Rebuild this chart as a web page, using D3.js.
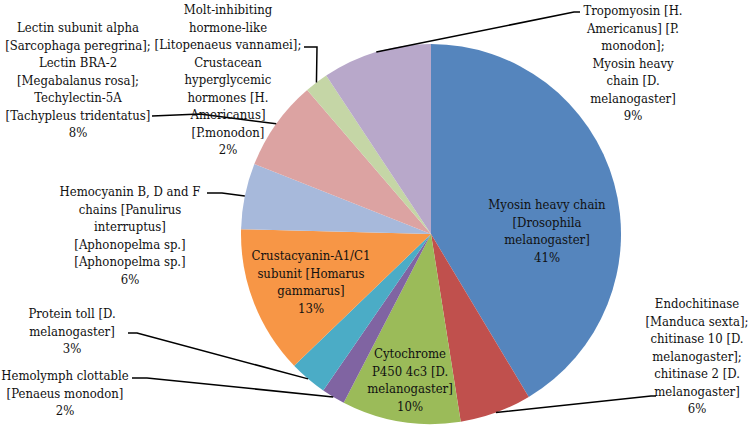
<!DOCTYPE html>
<html>
<head>
<meta charset="utf-8">
<script src="https://cdn.jsdelivr.net/npm/d3@7"></script>
<style>
  body { margin: 0; background: #fff; }
</style>
</head>
<body>
<svg id="chart"></svg>
<script>
// slice labels (line-broken as in the original)
const labels = [
  ["Myosin heavy chain", "[Drosophila", "melanogaster]"],
  ["Endochitinase", "[Manduca sexta];", "chitinase 10 [D.", "melanogaster];", "chitinase 2 [D.", "melanogaster]"],
  ["Cytochrome", "P450 4c3 [D.", "melanogaster]"],
  ["Hemolymph clottable", "[Penaeus monodon]"],
  ["Protein toll [D.", "melanogaster]"],
  ["Crustacyanin-A1/C1", "subunit [Homarus", "gammarus]"],
  ["Hemocyanin B, D and F", "chains [Panulirus", "interruptus]", "[Aphonopelma sp.]", "[Aphonopelma sp.]"],
  ["Lectin subunit alpha", "[Sarcophaga peregrina];", "Lectin BRA-2", "[Megabalanus rosa];", "Techylectin-5A", "[Tachypleus tridentatus]"],
  ["Molt-inhibiting", "hormone-like", "[Litopenaeus vannamei];", "Crustacean", "hyperglycemic", "hormones [H.", "Americanus]", "[P.monodon]"],
  ["Tropomyosin [H.", "Americanus] [P.", "monodon];", "Myosin heavy", "chain [D.", "melanogaster]"]
];
// share of hits, percent
const values = [41.4, 6.1, 10.1, 2.0, 3.2, 12.6, 5.6, 7.7, 2.0, 9.3];
const colors = ["#5585BD", "#C0504D", "#9BBB59", "#8064A2", "#4BACC6",
                "#F79646", "#A7B9DB", "#DCA3A2", "#C5D6A6", "#B8A8CA"];

const width = 750, height = 429;
const cx = 431, cy = 234, radius = 190;
const lineH = 17.5;
const font = "DejaVu Serif, serif";

// label placement: centre x and centre y of the first line
const labelPos = [
  [547, 204], [697, 303], [410, 353], [65, 375], [72, 313],
  [311, 255], [130, 191], [78, 27], [228, 9], [633, 10]
];
// leader line: points from the label side toward the slice (null = label inside)
const leaders = [
  null,
  [[656, 396], [651, 396]],
  null,
  [[132, 378], [147, 378]],
  [[128, 333], [137, 333]],
  null,
  [[207, 193], [222, 193]],
  [[152, 116], [200, 114]],
  [[304, 47], [317, 47]],
  [[580, 12], [574, 12]]
];

const svg = d3.select("#chart")
  .attr("width", width)
  .attr("height", height);

const pie = d3.pie().sort(null).value(d => d);
const arcs = pie(values);
const arc = d3.arc().innerRadius(0).outerRadius(radius);
const edge = d3.arc().innerRadius(radius).outerRadius(radius);

const g = svg.append("g").attr("transform", `translate(${cx},${cy})`);

g.selectAll("path.slice")
  .data(arcs)
  .enter()
  .append("path")
  .attr("class", "slice")
  .attr("d", arc)
  .attr("fill", (d, i) => colors[i]);

// leader lines
const line = d3.line();
arcs.forEach((d, i) => {
  if (!leaders[i]) return;
  const p = edge.centroid(d);
  const pts = leaders[i].map(q => [q[0], q[1]]).concat([[p[0] + cx, p[1] + cy]]);
  svg.append("path")
    .attr("d", line(pts))
    .attr("fill", "none")
    .attr("stroke", "#000")
    .attr("stroke-width", 1.5);
});

// labels
arcs.forEach((d, i) => {
  const lines = labels[i].concat([Math.round(values[i]) + "%"]);
  const t = svg.append("text")
    .attr("text-anchor", "middle")
    .style("font-family", font)
    .style("font-stretch", "condensed")
    .style("font-size", "13px")
    .attr("fill", "#111");
  lines.forEach((s, k) => {
    t.append("tspan")
      .attr("x", labelPos[i][0])
      .attr("y", labelPos[i][1] + k * lineH + 5)
      .text(s);
  });
});
</script>
</body>
</html>
